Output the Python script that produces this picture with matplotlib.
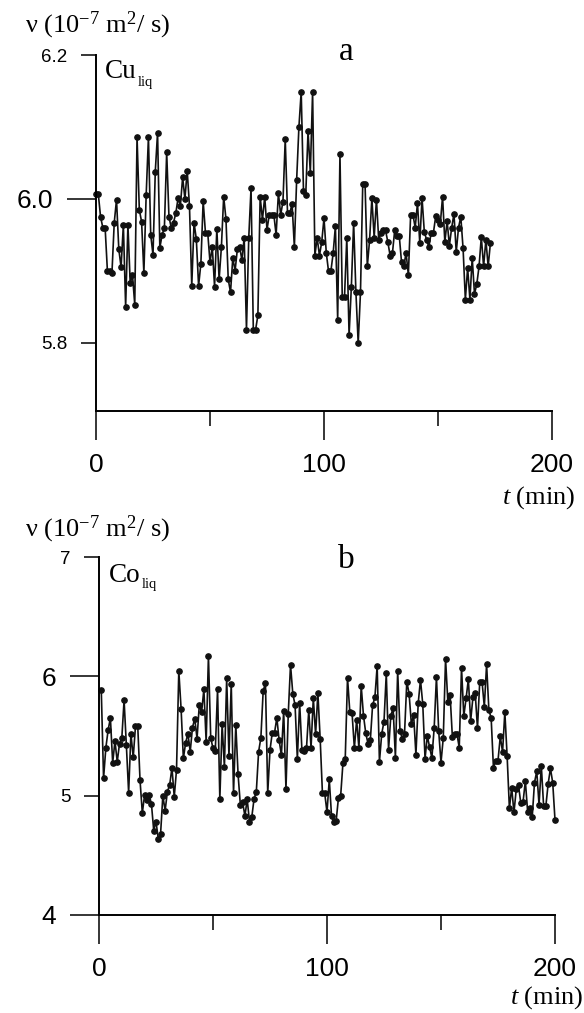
import numpy as np
import matplotlib
matplotlib.use('Agg')
import matplotlib.pyplot as plt
from matplotlib.ticker import FixedLocator, FixedFormatter

plt.rcParams['font.family'] = ['Liberation Sans', 'DejaVu Sans']
plt.rcParams['mathtext.fontset'] = 'custom'
plt.rcParams['mathtext.rm'] = 'Liberation Serif'
plt.rcParams['mathtext.it'] = 'Liberation Serif:italic'

# kinematic viscosity of liquid Cu, one reading per minute (10^-7 m2/s)
nu_cu = [6.007, 6.007, 5.975, 5.96, 5.96, 5.90, 5.90, 5.897, 5.967, 5.999,
         5.93, 5.905, 5.964, 5.85, 5.964, 5.883, 5.894, 5.853, 6.086, 5.985,
         5.968, 5.897, 6.005, 6.086, 5.95, 5.922, 6.038, 6.092, 5.932, 5.95,
         5.96, 6.065, 5.975, 5.96, 5.967, 5.98, 6.001, 5.99, 6.03, 6.0,
         6.039, 5.99, 5.879, 5.967, 5.944, 5.879, 5.91, 5.997, 5.953, 5.953,
         5.912, 5.933, 5.878, 5.958, 5.888, 5.933, 6.003, 5.972, 5.888, 5.87,
         5.918, 5.90, 5.93, 5.933, 5.915, 5.946, 5.818, 5.946, 6.015, 5.818,
         5.818, 5.838, 6.003, 5.971, 6.003, 5.957, 5.978, 5.978, 5.978, 5.95,
         6.008, 5.978, 5.996, 6.083, 5.98, 5.98, 5.993, 5.933, 6.026, 6.1,
         6.149, 6.011, 6.006, 6.094, 6.036, 6.149, 5.921, 5.946, 5.921, 5.94,
         5.973, 5.925, 5.899, 5.899, 5.924, 5.962, 5.832, 6.062, 5.864, 5.864,
         5.946, 5.81, 5.878, 5.967, 5.87, 5.799, 5.87, 6.021, 6.021, 5.906,
         5.943, 6.001, 5.946, 5.999, 5.943, 5.953, 5.956, 5.956, 5.94, 5.921,
         5.924, 5.956, 5.949, 5.949, 5.912, 5.906, 5.925, 5.894, 5.978, 5.978,
         5.96, 5.994, 5.939, 6.001, 5.954, 5.943, 5.933, 5.953, 5.953, 5.976,
         5.971, 5.965, 6.003, 5.94, 5.969, 5.935, 5.96, 5.979, 5.926, 5.96,
         5.975, 5.931, 5.86, 5.904, 5.86, 5.918, 5.868, 5.881, 5.906, 5.947,
         5.906, 5.943, 5.906, 5.939]

# liquid Co
nu_co = [5.883, 5.145, 5.40, 5.55, 5.65, 5.276, 5.457, 5.284, 5.437, 5.48,
         5.80, 5.423, 5.025, 5.52, 5.32, 5.58, 5.58, 5.128, 4.855, 5.006,
         4.964, 5.006, 4.93, 4.708, 4.783, 4.638, 4.677, 5.0, 4.875, 5.033,
         5.09, 5.234, 4.989, 5.217, 6.047, 5.73, 5.312, 5.443, 5.52, 5.368,
         5.571, 5.646, 5.479, 5.763, 5.70, 5.891, 5.451, 6.17, 5.485, 5.396,
         5.376, 5.891, 4.969, 5.60, 5.237, 5.986, 5.331, 5.939, 5.02, 5.596,
         5.178, 4.922, 4.944, 4.83, 4.969, 4.783, 4.819, 4.972, 5.033, 5.368,
         5.485, 5.875, 5.947, 5.02, 5.382, 5.529, 5.529, 5.652, 5.465, 5.34,
         5.71, 5.056, 5.682, 6.097, 5.855, 5.758, 5.306, 5.78, 5.382, 5.373,
         5.396, 5.716, 5.40, 5.819, 5.513, 5.861, 5.479, 5.02, 5.02, 4.861,
         5.136, 4.826, 4.779, 4.785, 4.978, 5.001, 5.275, 5.311, 5.989, 5.704,
         5.69, 5.399, 5.635, 5.399, 5.92, 5.671, 5.524, 5.435, 5.463, 5.759,
         5.823, 6.086, 5.283, 5.518, 5.621, 6.025, 5.385, 5.671, 5.734, 5.319,
         6.047, 5.546, 5.477, 5.518, 5.956, 5.856, 5.601, 5.676, 5.344, 5.773,
         5.972, 5.767, 5.311, 5.499, 5.408, 5.316, 5.565, 5.994, 5.538, 5.277,
         5.485, 6.147, 5.787, 5.842, 5.488, 5.518, 5.518, 5.402, 6.072, 5.668,
         5.815, 5.975, 5.626, 5.823, 5.859, 5.565, 5.956, 5.956, 5.745, 6.1,
         5.718, 5.651, 5.233, 5.294, 5.294, 5.496, 5.366, 5.701, 5.333, 4.893,
         5.067, 4.859, 5.053, 5.086, 4.937, 4.951, 5.122, 4.865, 4.895, 4.818,
         5.109, 5.205, 4.923, 5.25, 4.915, 4.915, 5.1, 5.228, 5.109, 4.796]

t_cu = np.arange(len(nu_cu))        # readings every minute from t = 0
t_co = np.arange(1, len(nu_co) + 1)  # readings every minute from t = 1

x_major = [0, 100, 200]
x_minor = [50, 150]
cu_major, cu_major_lab = [6.0], ['6.0']
cu_minor, cu_minor_lab = [5.8, 6.2], ['5.8', '6.2']
co_major, co_major_lab = [4, 6], ['4', '6']
co_minor, co_minor_lab = [5, 7], ['5', '7']

W, H = 584, 1013
fig = plt.figure(figsize=(W / 100, H / 100), dpi=100)


def box(left, top, right, bottom):
    return [left / W, 1 - bottom / H, (right - left) / W, (bottom - top) / H]


def style(ax, ylim, maj, maj_lab, mnr, mnr_lab):
    ax.spines[['top', 'right']].set_visible(False)
    for s in ['left', 'bottom']:
        ax.spines[s].set_linewidth(1.4)
    ax.set_xlim(0, 200)
    ax.set_ylim(*ylim)
    ax.xaxis.set_major_locator(FixedLocator(x_major))
    ax.xaxis.set_minor_locator(FixedLocator(x_minor))
    ax.yaxis.set_major_locator(FixedLocator(maj))
    ax.yaxis.set_major_formatter(FixedFormatter(maj_lab))
    ax.yaxis.set_minor_locator(FixedLocator(mnr))
    ax.yaxis.set_minor_formatter(FixedFormatter(mnr_lab))
    ax.tick_params(which='major', length=21, width=1.1, labelsize=19)
    ax.tick_params(which='minor', length=10.5, width=1.1, labelsize=13.5)
    ax.tick_params(axis='y', which='both', pad=10)
    ax.tick_params(axis='x', which='both', pad=9)


serif = 'Liberation Serif'

ax1 = fig.add_axes(box(96, 55, 552, 411))
ax1.plot(t_cu, nu_cu, '-o', color='#111111', lw=1.2, ms=3.8, clip_on=False)
style(ax1, (5.705, 6.2), cu_major, cu_major_lab, cu_minor, cu_minor_lab)

ax2 = fig.add_axes(box(99, 557, 555, 915))
ax2.plot(t_co, nu_co, '-o', color='#111111', lw=1.2, ms=3.8, clip_on=False)
style(ax2, (4, 7), co_major, co_major_lab, co_minor, co_minor_lab)

ylab = r'ν (10$^{-7}$ m$^{2}$/ s)'
fig.text(25 / W, 1 - 25 / H, ylab, family=serif, fontsize=19, va='center', ha='left')
fig.text(25 / W, 1 - 529 / H, ylab, family=serif, fontsize=19, va='center', ha='left')

fig.text(346 / W, 1 - 52 / H, 'a', family=serif, fontsize=24, va='center', ha='center')
fig.text(346 / W, 1 - 560 / H, 'b', family=serif, fontsize=24, va='center', ha='center')

fig.text(105 / W, 1 - 78 / H, 'Cu', family=serif, fontsize=19.5, va='baseline')
fig.text(138 / W, 1 - 86 / H, 'liq', family=serif, fontsize=10.5, va='baseline')
fig.text(109 / W, 1 - 582 / H, 'Co', family=serif, fontsize=19.5, va='baseline')
fig.text(142 / W, 1 - 588 / H, 'liq', family=serif, fontsize=10.5, va='baseline')

fig.text(575 / W, 1 - 498 / H, r'$t$ (min)', family=serif, fontsize=19, va='center', ha='right')
fig.text(583 / W, 1 - 998 / H, r'$t$ (min)', family=serif, fontsize=19, va='center', ha='right')

fig.savefig('out.png', dpi=100)
